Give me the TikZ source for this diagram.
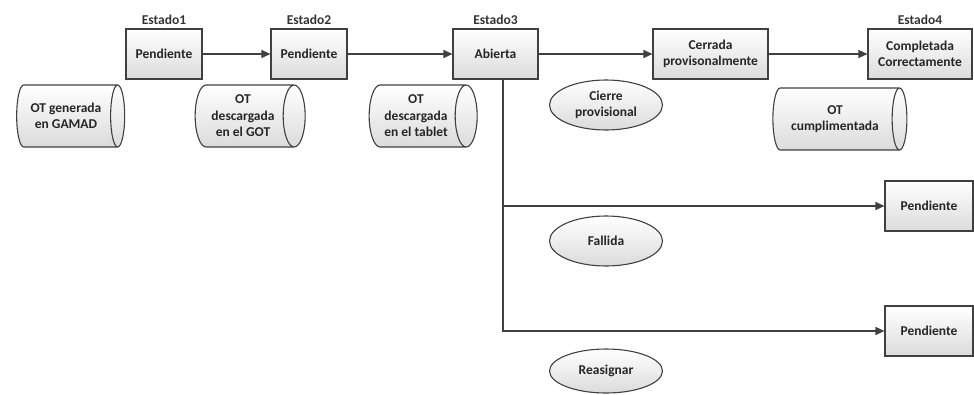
\documentclass[tikz,border=0pt]{standalone}
\usepackage{fontspec}
\setmainfont{Carlito}
\usetikzlibrary{calc,positioning,arrows.meta,shapes.geometric,shadows}

\begin{document}
\begin{tikzpicture}[x=1pt,y=-1pt,>={Triangle[length=9pt,width=8pt]},
    font=\fontsize{13.5}{16.5}\selectfont\bfseries,
    relleno/.style={top color=white,bottom color=black!14,draw=black!75,line width=1.1pt,text=black!85},
    caja/.style={relleno,rectangle,minimum height=50pt,inner sep=1pt,align=center,
        drop shadow={shadow xshift=1.2pt,shadow yshift=-1.2pt,opacity=0.2}},
    datos/.style={relleno,cylinder,shape aspect=0.5,minimum height=108pt,minimum width=62pt,
        inner sep=1pt,align=center},
    evento/.style={relleno,ellipse,minimum width=113pt,minimum height=50pt,inner sep=1pt,align=center},
    estado/.style={text=black!80,inner sep=1pt},
    flecha/.style={->,draw=black!75,line width=1.1pt}]
    \useasboundingbox (0,0) rectangle (974,394);
    % estados principales
    \node[caja,minimum width=76pt] (p1) at (164,54) {Pendiente};
    \node[caja,minimum width=76pt] (p2) at (309,54) {Pendiente};
    \node[caja,minimum width=85pt] (ab) at (495.5,54) {Abierta};
    \node[caja,minimum width=115pt] (cer) at (710.5,54) {Cerrada\\provisonalmente};
    \node[caja,minimum width=104pt] (comp) at (920,54) {Completada\\Correctamente};
    \node[caja,minimum width=88pt] (pen1) at (929,206) {Pendiente};
    \node[caja,minimum width=88pt] (pen2) at (929,331) {Pendiente};
    %
    \node[estado,above = 3pt of p1] {Estado1};
    \node[estado,above = 3pt of p2] {Estado2};
    \node[estado,above = 3pt of ab] {Estado3};
    \node[estado,above = 3pt of comp] {Estado4};
    % sistemas
    \node[datos] (gamad) at (66,116) {OT generada\\en GAMAD};
    \node[datos,minimum height=110pt] (got) at (243,116) {OT\\descargada\\en el GOT};
    \node[datos] (tablet) at (416,116) {OT\\descargada\\en el tablet};
    \node[datos,minimum height=134pt] (cumpl) at (835,119) {OT\\cumplimentada};
    % eventos
    \node[evento] (cierre) at (606,105) {Cierre\\provisional};
    \node[evento] (fallida) at (606,241) {Fallida};
    \node[evento,minimum height=44pt] (reasig) at (606,371) {Reasignar};
    %
    \draw[flecha] (p1) -- (p2);
    \draw[flecha] (p2) -- (ab);
    \draw[flecha] (ab) -- (cer);
    \draw[flecha] (cer) -- (comp);
    \coordinate (rama) at ($(ab.south)+(7.5,0)$);
    \draw[flecha] (rama) |- (pen1);
    \draw[flecha] (rama) |- (pen2);
\end{tikzpicture}
\end{document}
